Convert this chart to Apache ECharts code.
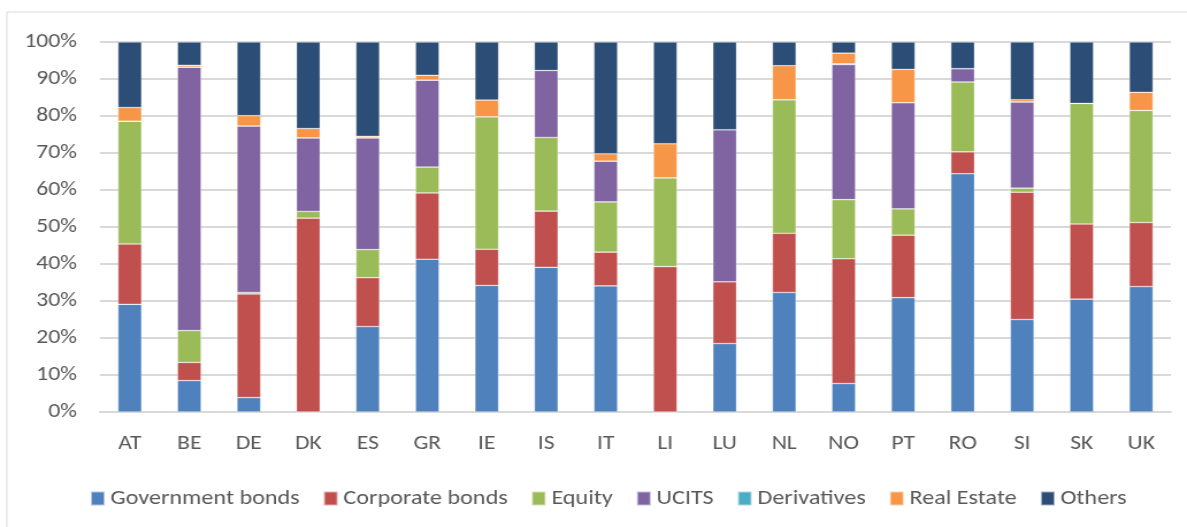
<!DOCTYPE html>
<html>
<head>
<meta charset="utf-8">
<script src="https://cdn.jsdelivr.net/npm/echarts@6/dist/echarts.min.js"></script>
<style>
  html, body { margin: 0; padding: 0; background: #fff; }
  #wrap { width: 1187px; height: 527px; overflow: hidden; }
  /* the source picture is stretched a bit horizontally */
  #chart { width: 1032px; height: 527px; transform: scaleX(1.1502); transform-origin: 0 0; }
</style>
</head>
<body>
<div id="wrap"><div id="chart"></div></div>
<script>
// countries on the x axis
const countries = ['AT', 'BE', 'DE', 'DK', 'ES', 'GR', 'IE', 'IS', 'IT', 'LI', 'LU', 'NL', 'NO', 'PT', 'RO', 'SI', 'SK', 'UK'];

// shares in %
const govBonds   = [29.1, 8.5, 3.9, 0, 23.1, 41.3, 34.2, 39.1, 34.1, 0, 18.5, 32.3, 7.7, 30.9, 64.4, 25.0, 30.5, 33.9];
const corpBonds  = [16.3, 4.9, 28.0, 52.4, 13.2, 17.9, 9.8, 15.2, 9.1, 39.3, 16.7, 16.0, 33.7, 16.9, 5.9, 34.4, 20.3, 17.3];
const equity     = [33.2, 8.6, 0.4, 1.8, 7.6, 7.0, 35.8, 19.9, 13.6, 24.0, 0, 36.1, 16.0, 7.1, 18.9, 1.1, 32.6, 30.3];
const ucits      = [0, 71.2, 45.0, 19.9, 30.2, 23.5, 0, 18.1, 11.0, 0, 41.1, 0, 36.5, 28.7, 3.6, 23.3, 0, 0];
const derivs     = [0, 0, 0, 0, 0, 0, 0, 0, 0, 0, 0, 0, 0.2, 0, 0, 0, 0, 0];
const realEstate = [3.7, 0.5, 2.8, 2.5, 0.4, 1.3, 4.5, 0, 2.0, 9.2, 0, 9.2, 2.9, 9.0, 0, 0.6, 0, 4.9];
const others     = [17.7, 6.3, 19.9, 23.4, 25.5, 9.0, 15.7, 7.7, 30.2, 27.5, 23.7, 6.4, 3.0, 7.4, 7.2, 15.6, 16.6, 13.6];

const seriesNames = ['Government bonds', 'Corporate bonds', 'Equity', 'UCITS', 'Derivatives', 'Real Estate', 'Others'];
const seriesData = [govBonds, corpBonds, equity, ucits, derivs, realEstate, others];
const colors = ['#4F81BD', '#C0504D', '#9BBB59', '#8064A2', '#4BACC6', '#F79646', '#2C4D75'];

const font = 'Carlito, Lato, "Noto Sans", sans-serif';

var mychart = echarts.init(document.getElementById('chart'), null, { renderer: 'canvas' });
mychart.setOption({
  animation: false,
  color: colors,
  graphic: [{
    type: 'rect',
    shape: { x: 6, y: 12, width: 1100, height: 540 },
    style: { fill: 'none', stroke: '#d9d9d9', lineWidth: 1 },
    silent: true
  }],
  grid: { left: 87, right: 14, top: 42, bottom: 115 },
  legend: {
    data: seriesNames,
    bottom: 18,
    left: 78,
    padding: 0,
    itemWidth: 12,
    itemHeight: 14,
    itemGap: 20,
    icon: 'rect',
    textStyle: { color: '#595959', fontSize: 21, fontFamily: font }
  },
  xAxis: {
    type: 'category',
    data: countries,
    axisLine: { show: true, lineStyle: { color: '#d9d9d9', width: 2 } },
    axisTick: { show: false },
    axisLabel: { color: '#595959', fontSize: 20.5, fontFamily: font, margin: 21 }
  },
  yAxis: {
    type: 'value',
    min: 0,
    max: 100,
    interval: 10,
    axisLine: { show: false },
    axisTick: { show: false },
    splitLine: { lineStyle: { color: '#d9d9d9', width: 2 } },
    axisLabel: { color: '#595959', fontSize: 20.5, fontFamily: font, margin: 20, formatter: '{value}%' }
  },
  series: seriesNames.map((name, i) => ({
    name,
    type: 'bar',
    stack: 'total',
    barWidth: '40%',
    data: seriesData[i],
    itemStyle: { borderColor: 'rgba(255,255,255,0.55)', borderWidth: 0.6 }
  }))
});
</script>
</body>
</html>
